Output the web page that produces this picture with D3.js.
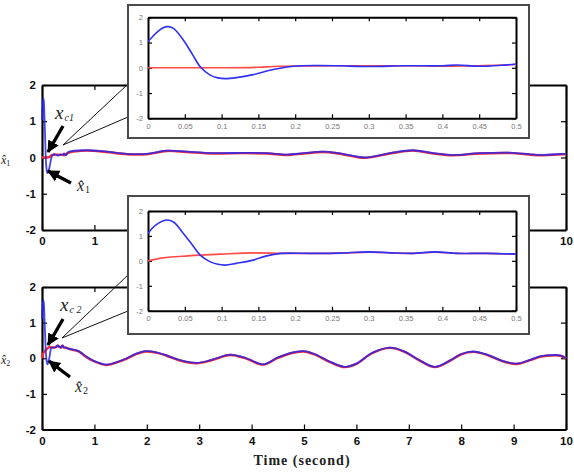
<!DOCTYPE html>
<html><head><meta charset="utf-8">
<script src="https://cdn.jsdelivr.net/npm/d3@7"></script>
<style>body{margin:0;background:#fff}svg{display:block}</style>
</head><body><svg id="c" width="574" height="473"></svg>
<script>
// ---------- data ----------
const mainXTicks = [0,1,2,3,4,5,6,7,8,9,10];
const mainYTicks = [-2,-1,0,1,2];
const insetXTicks = [0,0.05,0.1,0.15,0.2,0.25,0.3,0.35,0.4,0.45,0.5];
const insetXTickLabels = ["0","0.05","0.1","0.15","0.2","0.25","0.3","0.35","0.4","0.45","0.5"];
const insetYTicks = [-2,-1,0,1,2];
const xAxisTitle = "Time (second)";

// state 1, first 0.5 s
const tHat1 = [0,0.01,0.02,0.028,0.035,0.048,0.06,0.071,0.084,0.095,0.105,0.12,0.143,0.17,0.198,0.23,0.26,0.3,0.35,0.4,0.42,0.45,0.48,0.5];
const xHat1 = [1.03,1.35,1.58,1.63,1.55,1.1,0.55,0.04,-0.28,-0.4,-0.43,-0.39,-0.27,-0.07,0.06,0.09,0.08,0.05,0.08,0.08,0.11,0.06,0.1,0.15];
const tRef1 = [0,0.05,0.1,0.15,0.17,0.2,0.25,0.3,0.35,0.43,0.5];
const xRef1 = [0,0,0,0.02,0.05,0.07,0.08,0.08,0.08,0.07,0.13];
// state 1, rest of run (estimate and command overlap)
const tSteady1 = [0.85,1.23,1.62,2.0,2.38,2.76,3.27,3.84,4.29,4.67,5.0,5.36,5.66,6.16,6.64,7.08,7.47,7.84,8.36,8.99,9.5,9.94,10];
const xSteady1 = [0.2,0.16,0.1,0.1,0.19,0.16,0.12,0.13,0.12,0.08,0.12,0.16,0.12,0.0,0.12,0.2,0.12,0.07,0.12,0.13,0.07,0.1,0.1];

// state 2, first 0.5 s
const tHat2 = [0,0.01,0.025,0.035,0.048,0.06,0.071,0.084,0.095,0.105,0.12,0.143,0.16,0.18,0.22,0.26,0.3,0.33,0.36,0.39,0.42,0.46,0.5];
const xHat2 = [1.1,1.42,1.64,1.55,1.1,0.65,0.23,-0.03,-0.14,-0.17,-0.1,0.03,0.19,0.3,0.3,0.31,0.36,0.32,0.3,0.36,0.3,0.3,0.27];
const tRef2 = [0,0.02,0.054,0.1,0.143,0.18,0.22,0.26,0.3,0.33,0.36,0.39,0.42,0.46,0.5];
const xRef2 = [0,0.12,0.2,0.27,0.32,0.3,0.3,0.31,0.35,0.32,0.3,0.35,0.3,0.3,0.27];
// state 2, rest of run
const tSteady2 = [0.7,0.85,1.0,1.23,1.4,1.62,1.8,1.97,2.2,2.38,2.6,2.95,3.25,3.59,3.9,4.22,4.5,4.75,4.99,5.2,5.5,5.78,6.0,6.3,6.64,6.9,7.2,7.5,7.8,8.0,8.23,8.5,8.8,9.06,9.3,9.5,9.63,9.89,10];
const xSteady2 = [0.2,0.04,-0.08,-0.18,-0.12,0.0,0.13,0.2,0.16,0.08,-0.04,-0.13,-0.04,0.1,0.0,-0.17,0.02,0.15,0.2,0.12,-0.1,-0.24,-0.15,0.15,0.3,0.2,-0.05,-0.24,-0.05,0.12,0.19,0.1,-0.08,-0.15,-0.05,0.05,0.08,0.08,0.0];

// ---------- drawing ----------
const svg = d3.select("#c");
const RED = "#ff2a2a", BLUE = "#2626f0";
const pairs = (t, v) => t.map((d, i) => [d, v[i]]);

const defs = svg.append("defs");
defs.append("marker").attr("id","ah").attr("markerUnits","userSpaceOnUse")
  .attr("markerWidth",13).attr("markerHeight",13).attr("refX",11).attr("refY",6.5)
  .attr("orient","auto").append("path").attr("d","M0,0.5 L12,6.5 L0,12.5 Z").attr("fill","#000");

const panels = [
  { main:{left:42,right:566,top:85,bottom:230},
    inset:{fx:128,fy:5,fw:401,fh:133,left:148,right:516,top:17.3,bottom:118.3},
    hat:pairs(tHat1,xHat1), ref:pairs(tRef1,xRef1), steady:pairs(tSteady1,xSteady1),
    conn:{from:[63,145], to:[[128,84],[128,117]]},
    arrows:[[[63,126],[48,152]],[[71,183],[48,171]]],
    lblC:{x:55,y:119,sub:"c1"}, lblHat:{x:77,y:191,sub:"1"}, yTitle:{y:164,sub:"1"} },
  { main:{left:42,right:566,top:287,bottom:429.5},
    inset:{fx:128,fy:196,fw:401,fh:138,left:148,right:516,top:211,bottom:310.7},
    hat:pairs(tHat2,xHat2), ref:pairs(tRef2,xRef2), steady:pairs(tSteady2,xSteady2),
    conn:{from:[62,338], to:[[128,275],[128,311]]},
    arrows:[[[63,319],[48,345]],[[70,377],[49,361]]],
    lblC:{x:60,y:311,sub:"c 2"}, lblHat:{x:75,y:392,sub:"2"}, yTitle:{y:364,sub:"2"} }
];

function styleAxis(g, w, fontSize, fill, weight) {
  g.selectAll(".domain").attr("stroke","#000").attr("stroke-width",w);
  g.selectAll(".tick line").attr("stroke","#000").attr("stroke-width",1.2);
  g.selectAll(".tick text").attr("font-family","Liberation Sans, Arial, sans-serif")
    .attr("font-size",fontSize).attr("fill",fill).attr("font-weight",weight);
}

// main panels
panels.forEach(p => {
  const m = p.main;
  const x = d3.scaleLinear().domain([0,10]).range([m.left,m.right]);
  const y = d3.scaleLinear().domain([-2,2]).range([m.bottom,m.top]);
  const g = svg.append("g");
  const ax = [
    g.append("g").attr("transform",`translate(0,${m.bottom})`)
      .call(d3.axisBottom(x).tickValues(mainXTicks).tickSize(-5).tickSizeOuter(0).tickPadding(7).tickFormat(d=>String(d))),
    g.append("g").attr("transform",`translate(0,${m.top})`)
      .call(d3.axisTop(x).tickValues(mainXTicks).tickSize(-5).tickSizeOuter(0).tickFormat("")),
    g.append("g").attr("transform",`translate(${m.left},0)`)
      .call(d3.axisLeft(y).tickValues(mainYTicks).tickSize(-5).tickSizeOuter(0).tickPadding(6).tickFormat(d=>String(d))),
    g.append("g").attr("transform",`translate(${m.right},0)`)
      .call(d3.axisRight(y).tickValues(mainYTicks).tickSize(-5).tickSizeOuter(0).tickFormat(""))
  ];
  ax.forEach(a => styleAxis(a, 2.2, 11.5, "#111", "bold"));

  const line = d3.line().x(d=>x(d[0])).y(d=>y(d[1])).curve(d3.curveCatmullRom);
  const refAll = p.ref.concat(p.steady.map(d=>[d[0], d[1]-0.01]));
  const hatAll = p.hat.concat(p.steady);
  g.append("path").attr("d",line(refAll)).attr("fill","none").attr("stroke",RED).attr("stroke-width",2.4);
  g.append("path").attr("d",line(hatAll)).attr("fill","none").attr("stroke",BLUE).attr("stroke-width",1.8).attr("stroke-opacity",0.85);

  // y title at the left edge (mostly outside the plot in the original)
  const yt = g.append("text").attr("x",1).attr("y",p.yTitle.y)
    .attr("font-family","Liberation Serif, serif").attr("font-style","italic").attr("font-size",12).attr("fill","#222");
  yt.append("tspan").text("x\u0302");
  yt.append("tspan").attr("font-size",8).attr("font-style","normal").attr("dy",2).text(p.yTitle.sub);

  // connectors
  p.conn.to.forEach(t => {
    g.append("line").attr("x1",p.conn.from[0]).attr("y1",p.conn.from[1]).attr("x2",t[0]).attr("y2",t[1])
      .attr("stroke","#111").attr("stroke-width",1);
  });
  // arrows
  p.arrows.forEach(a => {
    g.append("line").attr("x1",a[0][0]).attr("y1",a[0][1]).attr("x2",a[1][0]).attr("y2",a[1][1])
      .attr("stroke","#000").attr("stroke-width",3.4).attr("marker-end","url(#ah)");
  });
  // labels
  const lc = g.append("text").attr("x",p.lblC.x).attr("y",p.lblC.y)
    .attr("font-family","Liberation Serif, serif").attr("fill","#222");
  lc.append("tspan").attr("font-style","italic").attr("font-size",19).text("x");
  lc.append("tspan").attr("font-style","italic").attr("font-size",10).attr("dy",2).attr("dx",1).text(p.lblC.sub);
  const lh = g.append("text").attr("x",p.lblHat.x).attr("y",p.lblHat.y)
    .attr("font-family","Liberation Serif, serif").attr("fill","#222");
  lh.append("tspan").attr("font-style","italic").attr("font-size",16).text("x\u0302");
  lh.append("tspan").attr("font-size",10).attr("dy",2).attr("dx",1).text(p.lblHat.sub);
});

// insets
panels.forEach((p, k) => {
  const s = p.inset;
  const g = svg.append("g");
  g.append("rect").attr("x",s.fx).attr("y",s.fy).attr("width",s.fw).attr("height",s.fh)
    .attr("fill","#fff").attr("stroke","#4a4a4a").attr("stroke-width",2);
  const x = d3.scaleLinear().domain([0,0.5]).range([s.left,s.right]);
  const y = d3.scaleLinear().domain([-2,2]).range([s.bottom,s.top]);
  const ax = [
    g.append("g").attr("transform",`translate(0,${s.bottom})`)
      .call(d3.axisBottom(x).tickValues(insetXTicks).tickSize(-4).tickSizeOuter(0).tickPadding(5).tickFormat((d,i)=>insetXTickLabels[i])),
    g.append("g").attr("transform",`translate(0,${s.top})`)
      .call(d3.axisTop(x).tickValues(insetXTicks).tickSize(-4).tickSizeOuter(0).tickFormat("")),
    g.append("g").attr("transform",`translate(${s.left},0)`)
      .call(d3.axisLeft(y).tickValues(insetYTicks).tickSize(-4).tickSizeOuter(0).tickPadding(5).tickFormat(d=>String(d))),
    g.append("g").attr("transform",`translate(${s.right},0)`)
      .call(d3.axisRight(y).tickValues(insetYTicks).tickSize(-4).tickSizeOuter(0).tickFormat(""))
  ];
  ax.forEach(a => styleAxis(a, 2, 7.5, "#777", "normal"));
  const clipId = "clip" + k;
  defs.append("clipPath").attr("id",clipId).append("rect")
    .attr("x",s.left).attr("y",s.top).attr("width",s.right-s.left).attr("height",s.bottom-s.top);
  const line = d3.line().x(d=>x(d[0])).y(d=>y(d[1])).curve(d3.curveCatmullRom);
  g.append("path").attr("d",line(p.ref)).attr("fill","none").attr("stroke","#ff4a4a").attr("stroke-width",1.6).attr("clip-path",`url(#${clipId})`);
  g.append("path").attr("d",line(p.hat)).attr("fill","none").attr("stroke","#2f2ff5").attr("stroke-width",1.6).attr("clip-path",`url(#${clipId})`);
});

// x axis title
svg.append("text").attr("x",302).attr("y",465).attr("text-anchor","middle")
  .attr("font-family","Liberation Serif, serif").attr("font-weight","bold").attr("font-size",14)
  .attr("letter-spacing",1).attr("fill","#222").text(xAxisTitle);
</script></body></html>
